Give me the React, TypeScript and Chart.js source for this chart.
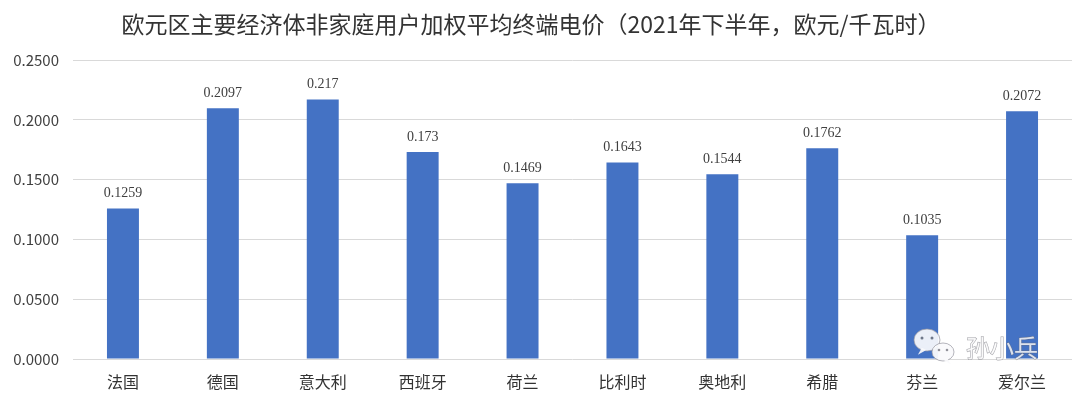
import React, { useEffect, useRef } from "react";
import { Chart, registerables } from "chart.js";

Chart.register(...registerables);

const title = "欧元区主要经济体非家庭用户加权平均终端电价（2021年下半年，欧元/千瓦时）";
const categories = ["法国", "德国", "意大利", "西班牙", "荷兰", "比利时", "奥地利", "希腊", "芬兰", "爱尔兰"];
const prices = [0.1259, 0.2097, 0.217, 0.173, 0.1469, 0.1643, 0.1544, 0.1762, 0.1035, 0.2072];
const yTicks = [0, 0.05, 0.1, 0.15, 0.2, 0.25];
const watermark = "孙小兵";

const CJK = '"Noto Sans CJK SC", "Noto Sans", sans-serif';

function bubble(ctx: any, cx: number, cy: number, rx: number, ry: number, tail: number) {
  ctx.beginPath();
  ctx.ellipse(cx, cy, rx, ry, 0, 0, Math.PI * 2);
  ctx.fill();
  ctx.stroke();
  ctx.beginPath();
  ctx.moveTo(cx + tail * rx * 0.4, cy + ry * 0.7);
  ctx.lineTo(cx + tail * rx * 0.7, cy + ry * 1.35);
  ctx.lineTo(cx + tail * rx * 0.05, cy + ry * 0.9);
  ctx.fill();
}

const overlayPlugin = {
  id: "overlay",
  afterDatasetsDraw(chart: any) {
    const ctx = chart.ctx;
    const meta = chart.getDatasetMeta(0);
    ctx.save();
    ctx.font = '14px "Liberation Serif", "Times New Roman", serif';
    ctx.fillStyle = "#404040";
    ctx.textAlign = "center";
    ctx.textBaseline = "bottom";
    meta.data.forEach((el: any, i: number) => {
      ctx.fillText(String(prices[i]), el.x, el.y - 8);
    });
    ctx.restore();
  },
  afterDraw(chart: any) {
    const ctx = chart.ctx;
    ctx.save();
    ctx.font = `23px ${CJK}`;
    ctx.fillStyle = "#333333";
    ctx.textAlign = "center";
    ctx.textBaseline = "middle";
    ctx.fillText(title, 531, 24);
    // watermark
    ctx.fillStyle = "rgba(250,250,252,0.92)";
    ctx.strokeStyle = "rgba(150,150,160,0.7)";
    ctx.lineWidth = 1;
    bubble(ctx, 927, 340, 13, 11, -1);
    ctx.fillStyle = "rgba(80,90,110,0.8)";
    ctx.beginPath(); ctx.arc(922, 338, 1.5, 0, Math.PI * 2); ctx.fill();
    ctx.beginPath(); ctx.arc(932, 338, 1.5, 0, Math.PI * 2); ctx.fill();
    ctx.fillStyle = "rgba(250,250,252,0.95)";
    bubble(ctx, 943, 352, 11, 9, 1);
    ctx.fillStyle = "rgba(120,120,130,0.8)";
    ctx.beginPath(); ctx.arc(939, 350, 1.3, 0, Math.PI * 2); ctx.fill();
    ctx.beginPath(); ctx.arc(947, 350, 1.3, 0, Math.PI * 2); ctx.fill();
    ctx.font = `24px ${CJK}`;
    ctx.fillStyle = "rgba(255,255,255,0.8)";
    ctx.strokeStyle = "rgba(110,110,120,0.65)";
    ctx.textAlign = "left";
    ctx.textBaseline = "middle";
    ctx.strokeText(watermark, 966, 348);
    ctx.fillText(watermark, 966, 348);
    ctx.restore();
  },
};

export default function App() {
  const ref = useRef<HTMLCanvasElement>(null);
  useEffect(() => {
    if (!ref.current) return;
    const chart = new Chart(ref.current, {
      type: "bar",
      data: {
        labels: categories,
        datasets: [
          {
            data: prices,
            backgroundColor: "#4472C4",
            borderWidth: 0,
            barPercentage: 0.32,
            categoryPercentage: 1,
          },
        ],
      },
      options: {
        animation: false,
        responsive: false,
        maintainAspectRatio: false,
        layout: { padding: { top: 60, right: 8, left: 0, bottom: 0 } },
        plugins: {
          legend: { display: false },
          title: { display: false },
          tooltip: { enabled: false },
        },
        scales: {
          x: {
            afterFit(scale: any) {
              scale.height = 40;
            },
            grid: { display: false },
            border: { display: false },
            ticks: {
              color: "#333333",
              font: { family: CJK, size: 16 },
              padding: 5,
            },
          },
          y: {
            min: 0,
            max: 0.25,
            afterFit(scale: any) {
              scale.width = 73;
            },
            afterBuildTicks(scale: any) {
              scale.ticks = yTicks.map((v) => ({ value: v }));
            },
            grid: { color: "#D9D9D9", lineWidth: 1, drawTicks: false },
            border: { display: false },
            ticks: {
              color: "#404040",
              font: { family: CJK, size: 15 },
              padding: 14,
              callback: (v: any) => Number(v).toFixed(4),
            },
          },
        },
      },
      plugins: [overlayPlugin],
    });
    return () => chart.destroy();
  }, []);
  return (
    <div style={{ position: "fixed", left: 0, top: 0, width: 1080, height: 399, background: "#fff" }}>
      <canvas ref={ref} width={1080} height={399} style={{ width: 1080, height: 399 }} />
    </div>
  );
}
